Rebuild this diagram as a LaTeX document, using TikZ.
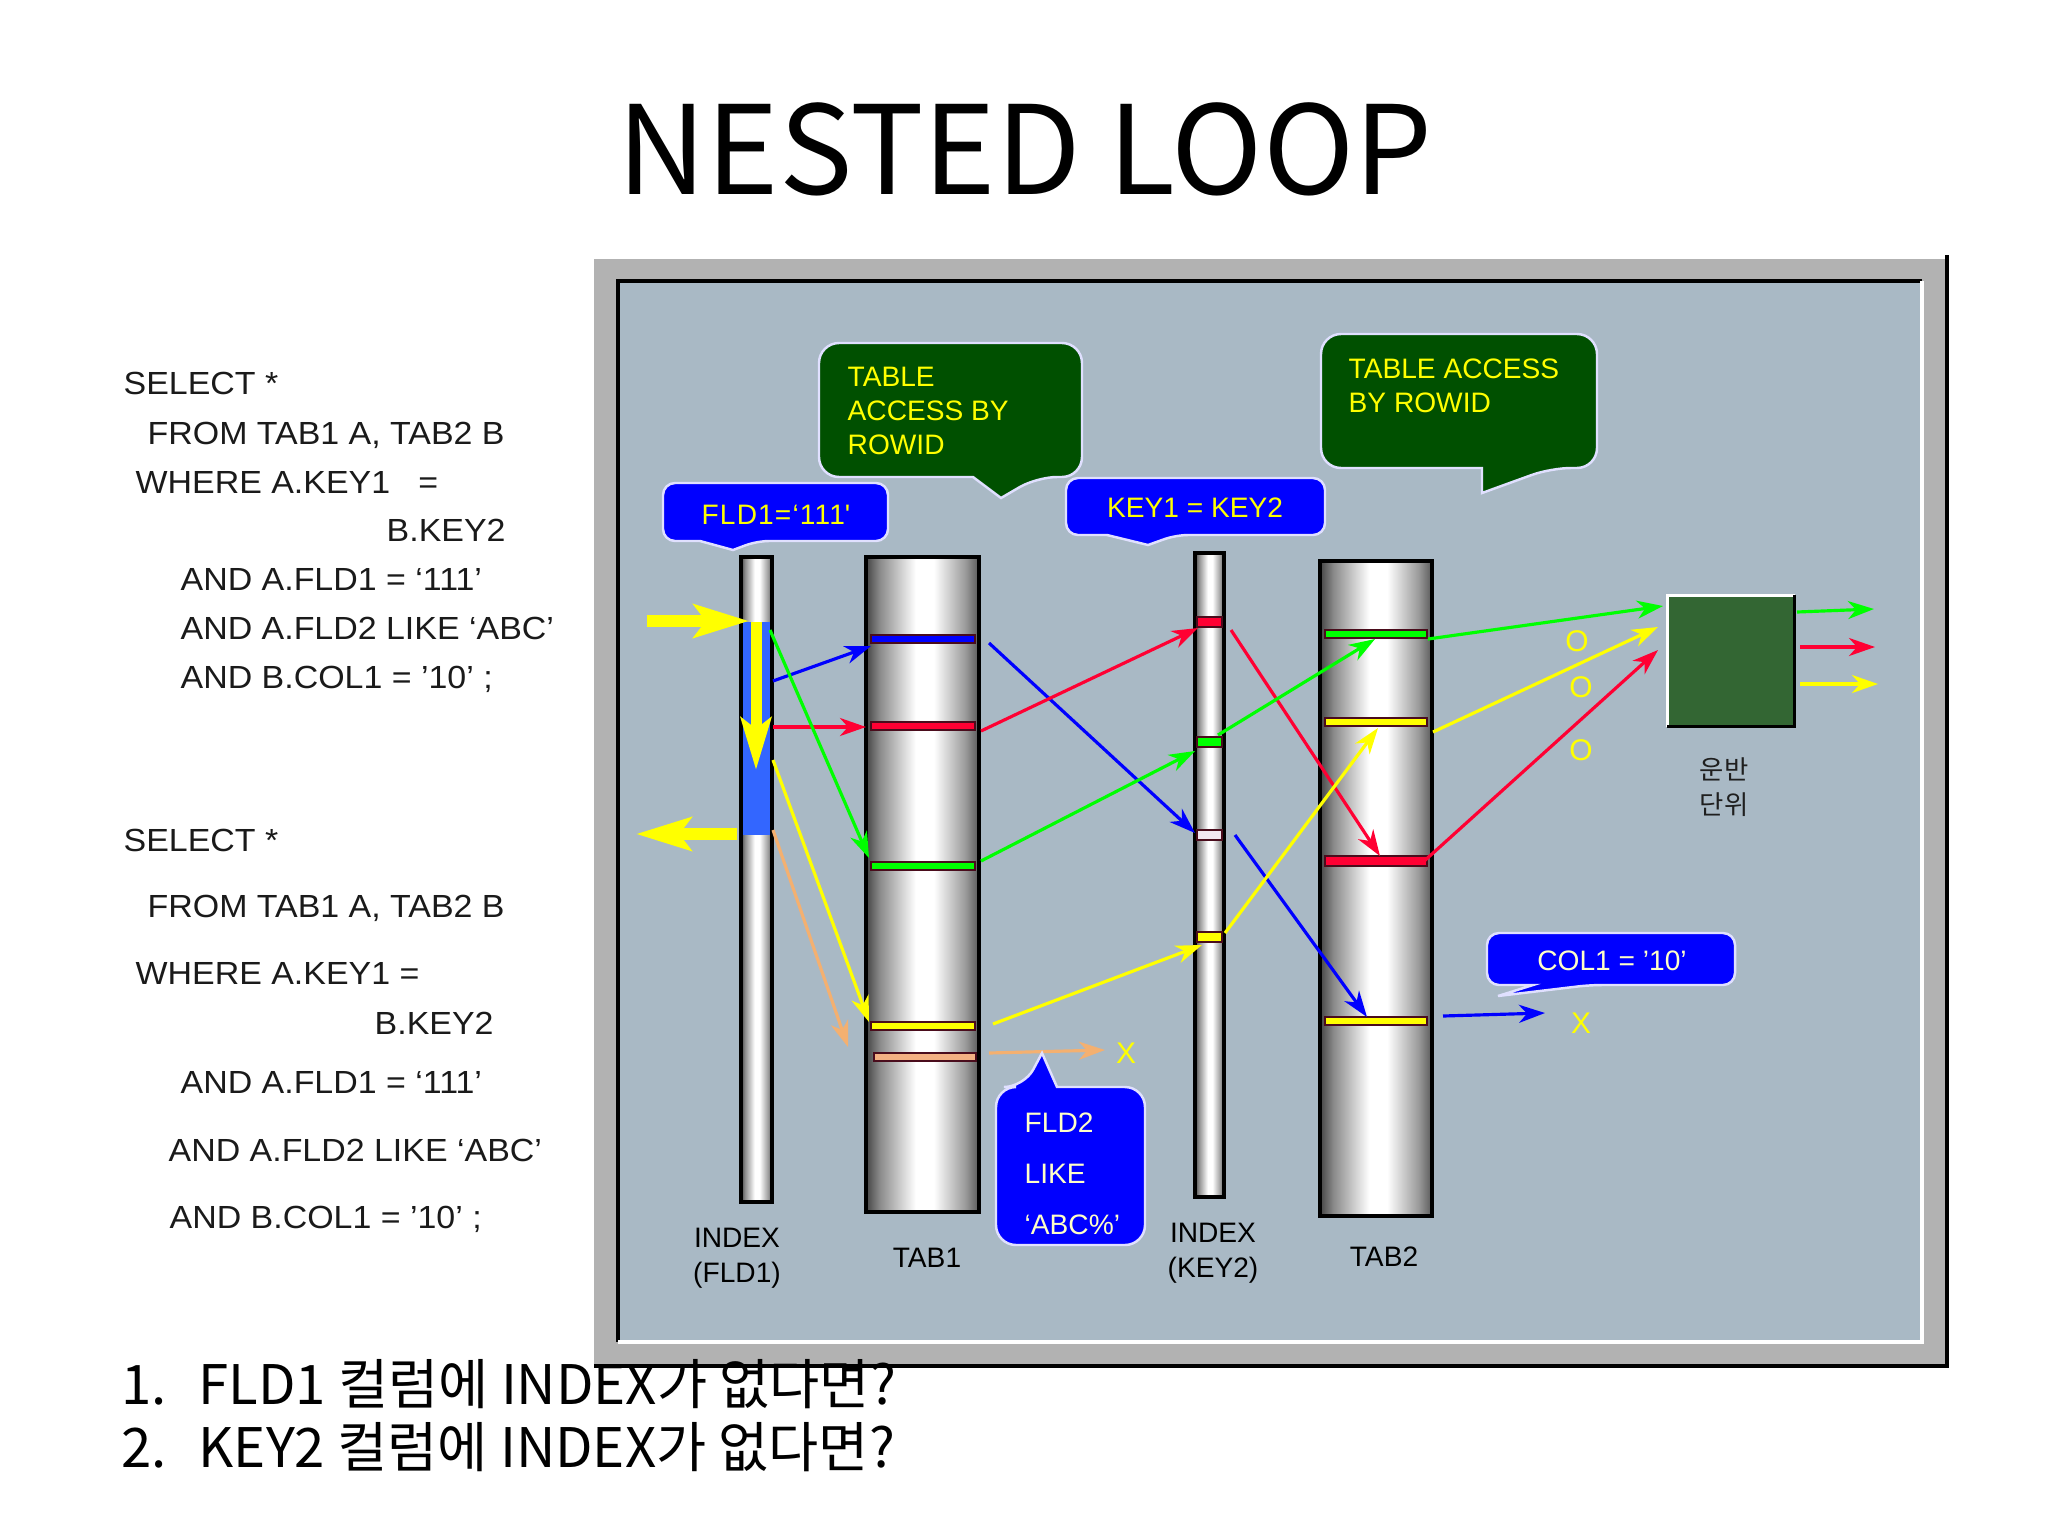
\documentclass[tikz,border=0pt]{standalone}
\usepackage{fontspec}
\setmainfont{Liberation Sans}
\newfontfamily\krfont{Noto Sans CJK KR}
\newfontfamily\sqlfont{Liberation Sans}[FakeStretch=1.06]
\usetikzlibrary{arrows.meta}

\definecolor{panelbg}{HTML}{A9B9C5}
\definecolor{framegray}{HTML}{B2B2B2}
\definecolor{calloutgreen}{HTML}{005000}
\definecolor{unitgreen}{HTML}{336633}
\definecolor{linered}{HTML}{FF0033}
\definecolor{linegreen}{HTML}{00FF00}
\definecolor{lineblue}{HTML}{0000FF}
\definecolor{lineyellow}{HTML}{FFFF00}
\definecolor{lineorange}{HTML}{F4B070}
\definecolor{stripeorange}{HTML}{F4B183}
\definecolor{stripewhite}{HTML}{F2E8F2}
\definecolor{stripeedge}{HTML}{4A0C1C}
\definecolor{segblue}{HTML}{3366FF}
\definecolor{paleyellow}{HTML}{FFFFC8}
\definecolor{sqltext}{HTML}{1A1A1A}
\definecolor{cylA}{HTML}{454545}
\definecolor{cylB}{HTML}{8A8A8A}
\definecolor{cylC}{HTML}{9A9A9A}
\definecolor{cylD}{HTML}{5A5A5A}

% the path covers 25bp..75bp of the shading
\pgfdeclarehorizontalshading{cylshade}{100bp}{color(0bp)=(cylA); color(25bp)=(cylA); color(31bp)=(cylB); color(47bp)=(white); color(55bp)=(white); color(69bp)=(cylC); color(75bp)=(cylD); color(100bp)=(cylD)}

\tikzset{
  cyl/.style={shading=cylshade, draw=black, line width=1pt},
  stripe/.style={draw=stripeedge, line width=0.6pt},
  flow/.style={line width=0.9pt, -{Stealth[length=0.26cm, width=0.18cm, inset=0.08cm]}},
  bigflow/.style={lineyellow, line width=0.12cm, -{Stealth[length=0.55cm, width=0.33cm, inset=0.12cm]}},
  callout/.style={draw=white!88!blue, line width=0.7pt},
  tag/.style={text=lineyellow, font=\fontsize{8}{9.7}\selectfont, inner sep=0pt},
  sql/.style={text=sqltext, font=\sqlfont\fontsize{9.1}{11}\selectfont, inner sep=0pt, anchor=base west},
  collabel/.style={text=black, font=\fontsize{8}{9.9}\selectfont, align=center, inner sep=0pt},
  passmark/.style={text=lineyellow, font=\fontsize{8.5}{10}\selectfont, inner sep=0pt},
  question/.style={text=black, font=\krfont\fontsize{15.5}{18}\selectfont, inner sep=0pt, anchor=base west},
}

\begin{document}
\begin{tikzpicture}[x=0.01cm, y=-0.01cm]
        % Page
        \fill[white] (0,0) rectangle (2048,1536);
        \useasboundingbox (0,0) rectangle (2048,1536);

        % Title
        \node[font=\krfont\fontsize{35}{40}\selectfont] (title) at (1025,149) {NESTED LOOP};

        % SQL, first version
        \node[sql] (q1a) at (123,394) {SELECT *};
        \node[sql] (q1b) at (147,444) {FROM TAB1 A, TAB2 B};
        \node[sql] (q1c) at (135,493) {WHERE A.KEY1~~~=};
        \node[sql] (q1d) at (386,541) {B.KEY2};
        \node[sql] (q1e) at (180,590) {AND A.FLD1 = ‘111’};
        \node[sql] (q1f) at (180,639) {AND A.FLD2 LIKE ‘ABC’};
        \node[sql] (q1g) at (180,688) {AND B.COL1 = ’10’ ;};

        % SQL, second version
        \node[sql] (q2a) at (123,851) {SELECT *};
        \node[sql] (q2b) at (147,917) {FROM TAB1 A, TAB2 B};
        \node[sql] (q2c) at (135,984) {WHERE A.KEY1~=};
        \node[sql] (q2d) at (374,1034) {B.KEY2};
        \node[sql] (q2e) at (180,1093) {AND A.FLD1 = ‘111’};
        \node[sql] (q2f) at (168,1161) {AND A.FLD2 LIKE ‘ABC’};
        \node[sql] (q2g) at (169,1228) {AND B.COL1 = ’10’ ;};

        % Frame and panel
        \fill[framegray] (594,259) rectangle (1947,1366);
        \draw[black, line width=0.9pt] (1947,255) -- (1947,1366) -- (594,1366);
        \fill[panelbg] (618,281) rectangle (1922,1342);
        \draw[black, line width=1pt] (618,1342) -- (618,281) -- (1922,281);
        \draw[white, line width=1pt] (1922,281) -- (1922,1342) -- (618,1342);

        % Columns
        \shadedraw[cyl] (741,557) rectangle (772,1202);
        \shadedraw[cyl] (866,557) rectangle (979,1212);
        \shadedraw[cyl] (1195,553) rectangle (1224,1197);
        \shadedraw[cyl] (1320,561) rectangle (1432,1216);

        % Range scanned in INDEX(FLD1)
        \fill[segblue] (743,622) rectangle (770,835);

        % TAB1 rows
        \filldraw[stripe, fill=lineblue] (871,635) rectangle (975,643);
        \filldraw[stripe, fill=linered] (871,722) rectangle (975,730);
        \filldraw[stripe, fill=linegreen] (871,862) rectangle (975,870);
        \filldraw[stripe, fill=lineyellow] (871,1022) rectangle (975,1030);
        \filldraw[stripe, fill=stripeorange] (874,1053) rectangle (976,1061);

        % INDEX(KEY2) entries
        \filldraw[stripe, fill=linered] (1197,617) rectangle (1222,627);
        \filldraw[stripe, fill=linegreen] (1197,737) rectangle (1222,747);
        \filldraw[stripe, fill=stripewhite] (1197,830) rectangle (1222,840);
        \filldraw[stripe, fill=lineyellow] (1197,932) rectangle (1222,942);

        % TAB2 rows
        \filldraw[stripe, fill=linegreen] (1325,630) rectangle (1427,638);
        \filldraw[stripe, fill=lineyellow] (1325,718) rectangle (1427,726);
        \filldraw[stripe, fill=linered] (1325,856) rectangle (1427,866);
        \filldraw[stripe, fill=lineyellow] (1325,1017) rectangle (1427,1025);

        % Unit box
        \node[fill=unitgreen, minimum width=1.26cm, minimum height=1.30cm, inner sep=0pt] (unit) at (1731,661) {};
        \draw[white, line width=0.9pt] (unit.south west) -- (unit.north west) -- (unit.north east);
        \draw[black, line width=0.9pt] (unit.north east) -- (unit.south east) -- (unit.south west);
        \node[align=center, text=black!88, font=\krfont\fontsize{7.5}{9.9}\selectfont] (unitlbl) at (1724,787) {운반\\단위};

        % Arrow end points
        \coordinate (inA) at (647,621);   \coordinate (inB) at (749,621);
        \coordinate (dnA) at (756,622);   \coordinate (dnB) at (756,770);
        \coordinate (outA) at (737,834);  \coordinate (outB) at (636,834);

        \coordinate (i1b) at (773,681);   \coordinate (t1b) at (871,646);
        \coordinate (i1r) at (773,727);   \coordinate (t1r) at (866,727);
        \coordinate (i1g) at (770,630);   \coordinate (t1g) at (869,858);
        \coordinate (i1y) at (773,760);   \coordinate (t1y) at (869,1022);
        \coordinate (i1o) at (773,830);   \coordinate (t1o) at (848,1047);

        \coordinate (t1bo) at (989,643);  \coordinate (i2w) at (1195,833);
        \coordinate (t1ro) at (981,731);  \coordinate (i2r) at (1198,628);
        \coordinate (t1go) at (981,861);  \coordinate (i2g) at (1195,751);
        \coordinate (t1yo) at (993,1024); \coordinate (i2y) at (1202,945);
        \coordinate (t1oo) at (989,1053); \coordinate (dropA) at (1105,1050);

        \coordinate (i2ro) at (1231,630); \coordinate (t2r) at (1380,856);
        \coordinate (i2go) at (1218,735); \coordinate (t2g) at (1375,639);
        \coordinate (i2wo) at (1235,835); \coordinate (t2y2) at (1367,1017);
        \coordinate (i2yo) at (1225,933); \coordinate (t2y) at (1378,728);

        \coordinate (t2go) at (1428,639); \coordinate (ung) at (1663,606);
        \coordinate (t2yo) at (1433,732); \coordinate (uny) at (1658,627);
        \coordinate (t2ro) at (1422,863); \coordinate (unr) at (1658,650);
        \coordinate (t2bo) at (1443,1016); \coordinate (dropB) at (1545,1013);

        \coordinate (og1) at (1797,612);  \coordinate (og2) at (1874,609);
        \coordinate (or1) at (1800,647);  \coordinate (or2) at (1875,647);
        \coordinate (oy1) at (1800,684);  \coordinate (oy2) at (1878,684);

        % Index scan (thick)
        \draw[bigflow] (inA) -- (inB);
        \draw[bigflow, line width=0.11cm, -{Stealth[length=0.52cm, width=0.30cm, inset=0.11cm]}] (dnA) -- (dnB);
        \draw[bigflow] (outA) -- (outB);

        % INDEX(FLD1) -> TAB1
        \draw[flow, lineblue] (i1b) -- (t1b);
        \draw[flow, linered] (i1r) -- (t1r);
        \draw[flow, linegreen] (i1g) -- (t1g);
        \draw[flow, lineyellow] (i1y) -- (t1y);
        \draw[flow, lineorange] (i1o) -- (t1o);

        % TAB1 -> INDEX(KEY2)
        \draw[flow, lineblue] (t1bo) -- (i2w);
        \draw[flow, linered] (t1ro) -- (i2r);
        \draw[flow, linegreen] (t1go) -- (i2g);
        \draw[flow, lineyellow] (t1yo) -- (i2y);
        \draw[flow, lineorange] (t1oo) -- (dropA);

        % INDEX(KEY2) -> TAB2
        \draw[flow, linered] (i2ro) -- (t2r);
        \draw[flow, linegreen] (i2go) -- (t2g);
        \draw[flow, lineblue] (i2wo) -- (t2y2);
        \draw[flow, lineyellow] (i2yo) -- (t2y);

        % TAB2 -> unit
        \draw[flow, linegreen] (t2go) -- (ung);
        \draw[flow, lineyellow] (t2yo) -- (uny);
        \draw[flow, linered] (t2ro) -- (unr);
        \draw[flow, lineblue] (t2bo) -- (dropB);

        % Unit output
        \draw[flow, linegreen] (og1) -- (og2);
        \draw[flow, linered] (or1) -- (or2);
        \draw[flow, lineyellow] (oy1) -- (oy2);

        % Pass / drop marks
        \node[passmark] (ok1) at (1577,641) {O};
        \node[passmark] (ok2) at (1581,687) {O};
        \node[passmark] (ok3) at (1581,750) {O};
        \node[passmark] (noA) at (1126,1053) {X};
        \node[passmark] (noB) at (1581,1023) {X};

        % Callouts
        \filldraw[callout, fill=calloutgreen] (950,343) [rounded corners=0.2cm] -- (1082,343) -- (1082,477) -- (1037,477) [sharp corners] -- (1001,498) -- (973,477) [rounded corners=0.2cm] -- (819,477) -- (819,343) -- cycle;
        \node[tag, anchor=west, align=left] (acc1) at (847,411) {TABLE\\ACCESS BY\\ROWID};

        \filldraw[callout, fill=calloutgreen] (1460,334) [rounded corners=0.2cm] -- (1597,334) -- (1597,468) -- (1551,468) [sharp corners] -- (1482,493) -- (1482,468) [rounded corners=0.2cm] -- (1321,468) -- (1321,334) -- cycle;
        \node[tag, anchor=west, align=left] (acc2) at (1348,386) {TABLE ACCESS\\BY ROWID};

        \filldraw[callout, fill=lineblue] (775,483) [rounded corners=0.12cm] -- (888,483) -- (888,541) -- (757,541) [sharp corners] -- (733,550) -- (700,541) [rounded corners=0.12cm] -- (663,541) -- (663,483) -- cycle;
        \node[tag] (fldtag) at (776,515) {\addfontfeature{LetterSpace=4}FLD1=‘111\textquotesingle};

        \filldraw[callout, fill=lineblue] (1195,478) [rounded corners=0.12cm] -- (1325,478) -- (1325,535) -- (1176,535) [sharp corners] -- (1148,545) -- (1107,535) [rounded corners=0.12cm] -- (1066,535) -- (1066,478) -- cycle;
        \node[tag] (keytag) at (1195,508) {KEY1 = KEY2};

        \filldraw[callout, fill=lineblue] (1610,933) [rounded corners=0.12cm] -- (1735,933) -- (1735,985) -- (1590,985) [sharp corners] -- (1498,996) -- (1533,985) [rounded corners=0.12cm] -- (1487,985) -- (1487,933) -- cycle;
        \node[tag, text=paleyellow] (coltag) at (1612,961) {COL1 = ’10’};

        \filldraw[callout, fill=lineblue] (1070,1245) [rounded corners=0.2cm] -- (996,1245) -- (996,1087) -- (1024,1087) [sharp corners] -- (1042,1053) -- (1057,1087) [rounded corners=0.2cm] -- (1145,1087) -- (1145,1245) -- cycle;
        \node[tag, text=paleyellow, anchor=west, align=left, font=\fontsize{8}{14.5}\selectfont] (fld2tag) at (1024,1174) {FLD2\\LIKE\\‘ABC\%’};

        % Column labels
        \node[collabel] (idx1lbl) at (737,1258) {INDEX\\(FLD1)};
        \node[collabel] (tab1lbl) at (927,1258) {TAB1};
        \node[collabel] (idx2lbl) at (1213,1253) {INDEX\\(KEY2)};
        \node[collabel] (tab2lbl) at (1384,1257) {TAB2};

        % Questions
        \node[question] (n1) at (121,1404) {1.};
        \node[question] (qa) at (198,1404) {FLD1 컬럼에 INDEX가 없다면?};
        \node[question] (n2) at (121,1467) {2.};
        \node[question] (qb) at (198,1467) {KEY2 컬럼에 INDEX가 없다면?};

    \end{tikzpicture}
\end{document}
